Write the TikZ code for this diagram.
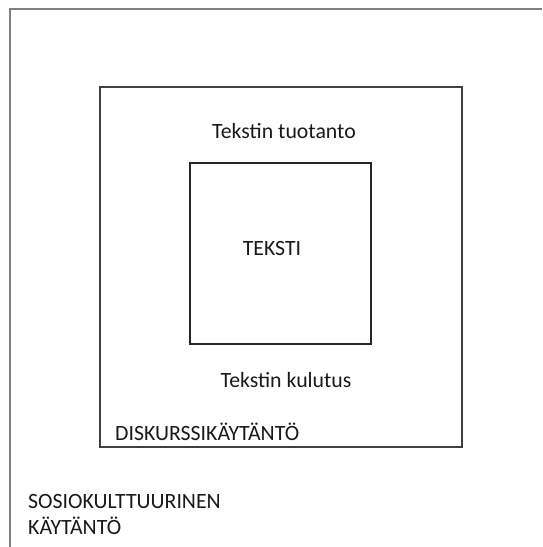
\documentclass[tikz,border=0pt]{standalone}
\usepackage{fontspec}
\setmainfont{Carlito}
\usetikzlibrary{positioning}

\begin{document}
\begin{tikzpicture}[x=1pt, y=-1pt, every node/.style={font=\fontsize{21.8}{26}\selectfont, text=black!90}]
  \useasboundingbox (0,0) rectangle (542,547);
  % outer frame (cut off at right and bottom)
  \draw[gray, line width=2pt] (10,547) -- (10,9) -- (542,9);

  % boxes
  \node[draw=black!75, line width=1.3pt, minimum width=362pt, minimum height=360pt, inner sep=0pt] (diskurssi) at (281,267) {};
  \node[draw=black!85, line width=1.3pt, minimum width=181pt, minimum height=181pt, inner sep=0pt] (teksti) at (280.5,253.5) {};

  % labels
  \node (tekstiLab) at (272,248) {TEKSTI};
  \node (tuotanto) at (284,131) {Tekstin tuotanto};
  \node (kulutus) at (286,380) {Tekstin kulutus};
  \node[anchor=west, inner sep=0pt] (diskLab) at (115,432) {DISKURSSIKÄYTÄNTÖ};
  \node[anchor=north west, align=left, inner sep=0pt] (sosioLab) at (28,494) {SOSIOKULTTUURINEN\\KÄYTÄNTÖ};
\end{tikzpicture}
\end{document}
